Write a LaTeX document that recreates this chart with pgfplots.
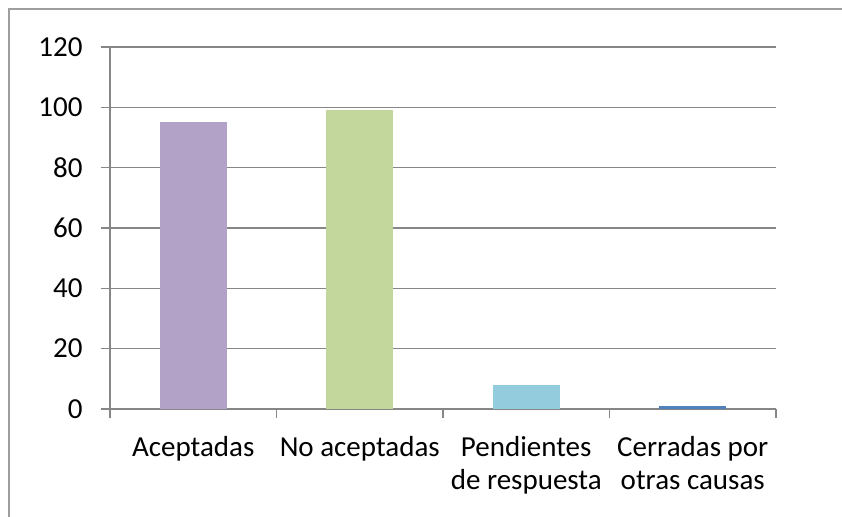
\documentclass[border=0pt]{standalone}
\usepackage{pgfplots}
\pgfplotsset{compat=1.18}
\usepackage{fontspec}
\setmainfont{Carlito}
\definecolor{gridgray}{HTML}{868686}
\definecolor{cpurple}{HTML}{B2A2C7}
\definecolor{cgreen}{HTML}{C3D69B}
\definecolor{cblue}{HTML}{93CDDD}
\definecolor{cdblue}{HTML}{4F81BD}
\begin{document}
\begin{tikzpicture}
\useasboundingbox (0,0) rectangle (842pt,516pt);
\draw[gridgray!80, line width=1.2pt] (9pt,-2pt) -- (9pt,507pt) -- (845pt,507pt);
\begin{axis}[
  at={(110pt,107pt)}, anchor=south west,
  scale only axis, width=666pt, height=362pt,
  xmin=0.5, xmax=4.5, ymin=0, ymax=120,
  ytick={0,20,...,120},
  xtick={1,2,3,4},
  xticklabels={Aceptadas,No aceptadas,{Pendientes\\de respuesta},{Cerradas por\\otras causas}},
  xticklabel style={align=center, font=\fontsize{29}{33}\selectfont, yshift=-15pt},
  yticklabel style={font=\fontsize{29}{33}\selectfont, xshift=-15pt},
  /pgf/number format/assume math mode=true,
  major x tick style={draw=none},
  minor xtick={0.5,1.5,2.5,3.5,4.5},
  tick align=outside,
  major tick length=9pt, minor tick length=9pt,
  axis x line*=bottom, axis y line*=left,
  axis line style={gridgray, line width=1.2pt},
  every tick/.style={gridgray, line width=1.2pt},
  ymajorgrids, grid style={gridgray, line width=1.2pt},
  ybar, bar width=67pt,
]
\addplot[fill=cpurple, draw=none, bar shift=0pt] coordinates {(1,95)};
\addplot[fill=cgreen, draw=none, bar shift=0pt] coordinates {(2,99)};
\addplot[fill=cblue, draw=none, bar shift=0pt] coordinates {(3,8)};
\addplot[fill=cdblue, draw=none, bar shift=0pt] coordinates {(4,1)};
\end{axis}
\end{tikzpicture}
\end{document}
